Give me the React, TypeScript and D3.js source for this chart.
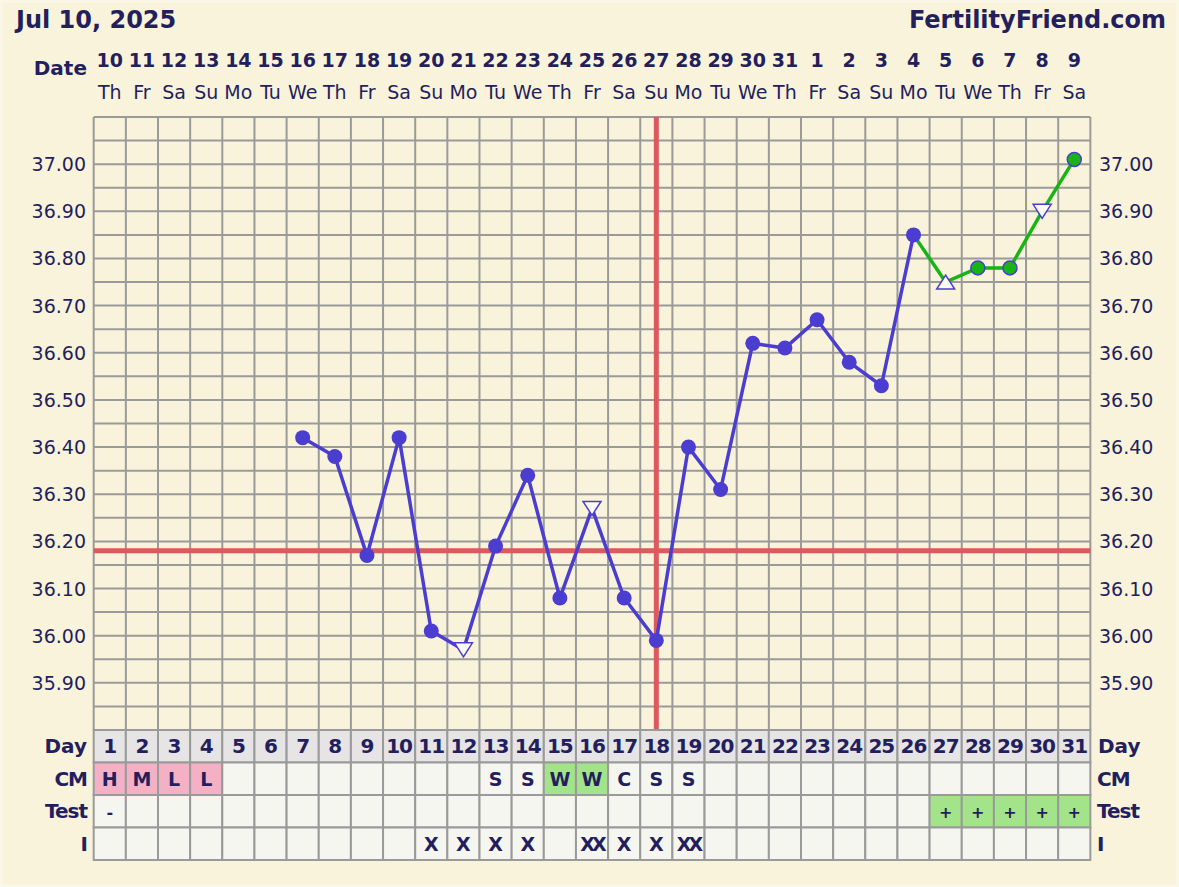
import React from "react";
import * as d3 from "d3";

const dates = ["10","11","12","13","14","15","16","17","18","19","20","21","22","23","24","25","26","27","28","29","30","31","1","2","3","4","5","6","7","8","9"];
const weekdays = ["Th","Fr","Sa","Su","Mo","Tu","We","Th","Fr","Sa","Su","Mo","Tu","We","Th","Fr","Sa","Su","Mo","Tu","We","Th","Fr","Sa","Su","Mo","Tu","We","Th","Fr","Sa"];
const cycleDays = d3.range(1, 32);
// temperatures per cycle day (null = none)
const temps: (number | null)[] = [null,null,null,null,null,null,36.42,36.38,36.17,36.42,36.01,35.97,36.19,36.34,36.08,36.27,36.08,35.99,36.40,36.31,36.62,36.61,36.67,36.58,36.53,36.85,36.75,36.78,36.78,36.90,37.01];
// marker type: c = filled dot, d = open down triangle, u = open up triangle
const markers = ["","","","","","","c","c","c","c","c","d","c","c","c","d","c","c","c","c","c","c","c","c","c","c","u","c","c","d","c"];
const greenFromDay = 26;
const cm = ["H","M","L","L","","","","","","","","","S","S","W","W","C","S","S","","","","","","","","","","","",""];
const tests = ["-","","","","","","","","","","","","","","","","","","","","","","","","","","+","+","+","+","+"];
const intercourse = ["","","","","","","","","","","X","X","X","X","","XX","X","X","XX","","","","","","","","","","","",""];
const yTicks = [35.9,36.0,36.1,36.2,36.3,36.4,36.5,36.6,36.7,36.8,36.9,37.0];
const coverline = 36.18;
const ovulationDay = 18;

const W = 1179, H = 887;
const left = 93.7, colW = 32.15;
const right = left + 31 * colW;
const top = 117, bottom = 730;
const rowH = 32.5;
const navy = "#231f5e";
const blue = "#4b3dd0";
const green = "#16b414";
const red = "#dc5a5e";
const gridC = "#9a9a9a";
const font = "'DejaVu Sans', Verdana, sans-serif";

export default function App() {
  const x = d3.scaleLinear().domain([0.5, 31.5]).range([left, right]);
  const y = d3.scaleLinear().domain([35.8, 37.1]).range([bottom, top]);
  const hLines = d3.range(0, 27).map((i) => 35.8 + i * 0.05);
  const pts = cycleDays.map((d, i) => ({ d, t: temps[i], m: markers[i] })).filter((p) => p.t !== null) as { d: number; t: number; m: string }[];
  const line = d3.line<{ d: number; t: number }>().x((p) => x(p.d)).y((p) => y(p.t));
  const bluePts = pts.filter((p) => p.d <= greenFromDay);
  const greenPts = pts.filter((p) => p.d >= greenFromDay);
  const tri = (cx: number, cy: number, up: boolean) => {
    const hw = 9, hh = 7;
    return up
      ? `M${cx - hw},${cy + hh}L${cx + hw},${cy + hh}L${cx},${cy - hh}Z`
      : `M${cx - hw},${cy - hh}L${cx + hw},${cy - hh}L${cx},${cy + hh}Z`;
  };
  const rows = [
    { label: "CM", vals: cm, fill: (v: string, i: number) => (i < 4 && v ? "#f4b1c6" : v === "W" ? "#a3e48a" : "#f6f6f0") },
    { label: "Test", vals: tests, fill: (v: string) => (v === "+" ? "#a3e48a" : "#f6f6f0") },
    { label: "I", vals: intercourse, fill: () => "#f6f6f0" },
  ];
  return (
    <svg width={W} height={H} style={{ position: "absolute", left: 0, top: 0 }} fontFamily={font}>
      <rect x={0} y={0} width={W} height={H} fill="#fbf7e6" />
      <rect x={3} y={3} width={W - 6} height={H - 6} fill="#f8f3da" />
      <text x={16} y={28} fontSize={24} fontWeight="bold" fill={navy}>Jul 10, 2025</text>
      <text x={1166} y={28} fontSize={24} fontWeight="bold" fill={navy} textAnchor="end">FertilityFriend.com</text>
      <text x={87} y={75} fontSize={20} fontWeight="bold" fill={navy} textAnchor="end">Date</text>
      {dates.map((d, i) => (
        <text key={"d" + i} x={x(i + 1)} y={67} fontSize={19} fontWeight="bold" fill={navy} textAnchor="middle">{d}</text>
      ))}
      {weekdays.map((d, i) => (
        <text key={"w" + i} x={x(i + 1)} y={99} fontSize={19} fill={navy} textAnchor="middle">{d}</text>
      ))}
      {/* grid */}
      {hLines.map((v, i) => (
        <line key={"h" + i} x1={left} x2={right} y1={y(v)} y2={y(v)} stroke={gridC} strokeWidth={2} />
      ))}
      {d3.range(0, 32).map((i) => (
        <line key={"v" + i} x1={left + i * colW} x2={left + i * colW} y1={top} y2={bottom} stroke={gridC} strokeWidth={2} />
      ))}
      {yTicks.map((v) => (
        <g key={"t" + v}>
          <text x={86} y={y(v) + 7} fontSize={19} fill={navy} textAnchor="end">{v.toFixed(2)}</text>
          <text x={1099} y={y(v) + 7} fontSize={19} fill={navy}>{v.toFixed(2)}</text>
        </g>
      ))}
      {/* coverline + ovulation */}
      <line x1={left} x2={right} y1={y(coverline)} y2={y(coverline)} stroke={red} strokeWidth={5} />
      <line x1={x(ovulationDay)} x2={x(ovulationDay)} y1={top} y2={bottom} stroke={red} strokeWidth={5} />
      {/* lines */}
      <path d={line(bluePts) || ""} fill="none" stroke={blue} strokeWidth={3.5} />
      <path d={line(greenPts) || ""} fill="none" stroke={green} strokeWidth={3.5} />
      {pts.map((p) => {
        const cx = x(p.d), cy = y(p.t);
        if (p.m === "c") {
          const g = p.d > greenFromDay;
          return <circle key={"p" + p.d} cx={cx} cy={cy} r={g ? 7 : 7.5} fill={g ? green : blue} stroke={blue} strokeWidth={g ? 1.5 : 0} />;
        }
        return <path key={"p" + p.d} d={tri(cx, cy, p.m === "u")} fill="#fbfaf0" stroke={blue} strokeWidth={1.5} />;
      })}
      {/* table */}
      <text x={87} y={bottom + rowH / 2 + 7} fontSize={20} fontWeight="bold" fill={navy} textAnchor="end">Day</text>
      <text x={1098} y={bottom + rowH / 2 + 7} fontSize={20} fontWeight="bold" fill={navy}>Day</text>
      {cycleDays.map((d, i) => (
        <g key={"c" + d}>
          <rect x={left + i * colW} y={bottom} width={colW} height={rowH} fill="#e6e4e4" stroke={gridC} strokeWidth={2} />
          <text x={x(d)} y={bottom + rowH / 2 + 7} fontSize={20} fontWeight="bold" fill={navy} textAnchor="middle" letterSpacing={-1}>{d}</text>
        </g>
      ))}
      {rows.map((r, ri) => {
        const ry = bottom + rowH * (ri + 1);
        return (
          <g key={"r" + ri}>
            <text x={87} y={ry + rowH / 2 + 7} fontSize={20} fontWeight="bold" fill={navy} textAnchor="end" letterSpacing={-1}>{r.label}</text>
            <text x={1097} y={ry + rowH / 2 + 7} fontSize={20} fontWeight="bold" fill={navy} letterSpacing={-1}>{r.label}</text>
            {r.vals.map((v, i) => (
              <g key={"rc" + i}>
                <rect x={left + i * colW} y={ry} width={colW} height={rowH} fill={r.fill(v, i)} stroke={gridC} strokeWidth={2} />
                {v && (
                  <text x={x(i + 1)} y={ry + rowH / 2 + 7} fontSize={v === "+" || v === "-" ? 16 : 19} fontWeight="bold" fill={navy} textAnchor="middle" letterSpacing={v === "XX" ? -3 : 0}>{v}</text>
                )}
              </g>
            ))}
          </g>
        );
      })}
    </svg>
  );
}
